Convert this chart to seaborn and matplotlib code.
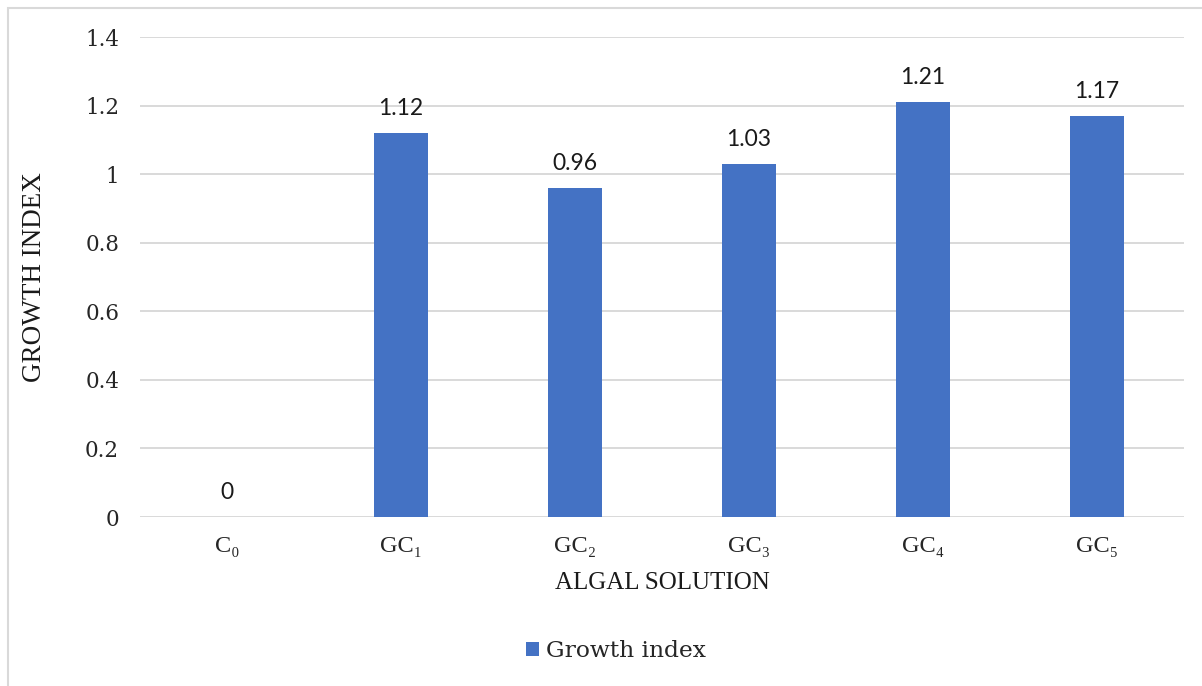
import matplotlib
matplotlib.use("Agg")
import matplotlib.pyplot as plt
from matplotlib.patches import Rectangle
import seaborn as sns
import pandas as pd

# Growth index per algal solution treatment
categories = ["C₀", "GC₁", "GC₂", "GC₃", "GC₄", "GC₅"]
growth_index = [0, 1.12, 0.96, 1.03, 1.21, 1.17]
y_ticks = [0, 0.2, 0.4, 0.6, 0.8, 1.0, 1.2, 1.4]
y_tick_labels = ["0", "0.2", "0.4", "0.6", "0.8", "1", "1.2", "1.4"]

sns.set_theme(style="white")
plt.rcParams["font.family"] = ["DejaVu Serif"]

df = pd.DataFrame({"solution": categories, "growth": growth_index})

fig = plt.figure(figsize=(12.02, 6.86), dpi=100)
ax = fig.add_axes([140 / 1202, 1 - 517 / 686, (1184 - 140) / 1202, (517 - 37) / 686])

bar_color = "#4472C4"
sns.barplot(data=df, x="solution", y="growth", color=bar_color, width=0.316,
            label="Growth index", ax=ax, saturation=1, edgecolor="none")

ax.set_ylim(0, 1.4)
ax.set_yticks(y_ticks)
ax.set_yticklabels(y_tick_labels, fontsize=15.5, color="#262626")
ax.tick_params(axis="y", length=0, pad=15)
ax.tick_params(axis="x", length=0, pad=14)
for lbl in ax.get_xticklabels():
    lbl.set_fontfamily(["Liberation Serif", "DejaVu Serif"])
    lbl.set_fontsize(17.5)
    lbl.set_color("#262626")

ax.yaxis.grid(True, color="#D9D9D9", linewidth=1.4)
ax.set_axisbelow(True)
for s in ax.spines.values():
    s.set_visible(False)

# value labels above bars
for i, v in enumerate(growth_index):
    ax.annotate(f"{v:g}", xy=(i, v), xytext=(0, 13), textcoords="offset points",
                ha="center", va="baseline", fontsize=16.5, family="Lato",
                color="#1a1a1a")

ax.set_xlabel("ALGAL SOLUTION", fontsize=18, family="Liberation Serif",
              color="#1a1a1a")
ax.set_ylabel("GROWTH INDEX", fontsize=19.5, family="Liberation Serif",
              color="#1a1a1a")
ax.yaxis.set_label_coords((35 - 140) / (1184 - 140), 0.5)
ax.xaxis.set_label_coords(0.5, -(583 - 517) / (517 - 37))
ax.xaxis.label.set_va("center")
ax.yaxis.label.set_va("center")

leg = ax.legend(loc="center", bbox_to_anchor=(616 / 1202, 1 - 651 / 686),
                bbox_transform=fig.transFigure, frameon=False,
                prop={"family": "DejaVu Serif", "size": 16.8},
                handlelength=0.55, handleheight=0.55, handletextpad=0.3)

# chart area border
fig.patches.append(Rectangle((8 / 1202, -0.05), 1.1, 1 - 8 / 686 + 0.05,
                             transform=fig.transFigure, fill=False,
                             edgecolor="#D9D9D9", linewidth=1.5, zorder=0))

fig.savefig("out.png", dpi=100)
